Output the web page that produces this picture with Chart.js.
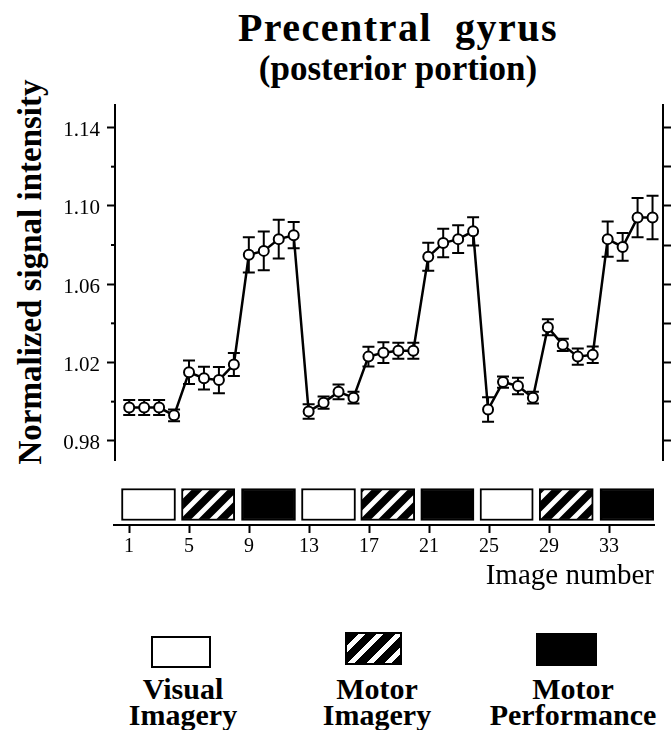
<!DOCTYPE html>
<html lang="en">
  <head>
    <meta charset="UTF-8" />
    <title>Precentral gyrus (posterior portion)</title>
    <style>
      body { margin: 0; background: #fff; font-family: "Liberation Serif", "Times New Roman", serif; color: #000; }
      #wrap { position: relative; width: 672px; height: 730px; overflow: hidden; }
      .title { position: absolute; left: 98px; width: 600px; text-align: center; font-weight: bold; white-space: pre; }
      .t1 { top: 8px; font-size: 40px; line-height: 40px; letter-spacing: 1.5px; }
      .t2 { top: 51px; font-size: 35px; line-height: 35px; }
      .ylab { position: absolute; left: 30px; top: 272px; width: 500px; margin-left: -250px; margin-top: -20px;
              height: 40px; line-height: 40px; text-align: center; font-weight: bold; font-size: 33px;
              transform: rotate(-90deg); white-space: nowrap; }
      canvas { position: absolute; left: 0; }
      #mainChart { top: 0; }
      #stripChart { top: 480px; }
      .sw { position: absolute; box-sizing: border-box; border: 2px solid #000; }
      .sw0 { left: 151px; top: 636px; width: 60px; height: 32px; background: #fff; }
      .sw1 { left: 345px; top: 632px; width: 57px; height: 33px;
             background: repeating-linear-gradient(135deg, #000 0 8px, #fff 8px 13px); }
      .sw2 { left: 536px; top: 633px; width: 61px; height: 33px; background: #000; }
      .lbl { position: absolute; top: 676px; width: 200px; text-align: center; font-weight: bold; font-size: 30px; line-height: 26px; }
      .lbl0 { left: 83px; }
      .lbl1 { left: 277px; }
      .lbl2 { left: 473px; }
    </style>
  </head>

  <body>
    <div id="wrap">
      <div class="title t1">Precentral  gyrus</div>
      <div class="title t2">(posterior portion)</div>
      <div class="ylab">Normalized signal intensity</div>
      <canvas id="mainChart" width="672" height="480"></canvas>
      <canvas id="stripChart" width="672" height="120"></canvas>
      <div id="legend"></div>
    </div>

    <script src="https://cdn.jsdelivr.net/npm/chart.js"></script>
    <script>
      const FONT = '"Liberation Serif", "Times New Roman", serif';

      const imageNumbers = [1, 2, 3, 4, 5, 6, 7, 8, 9, 10, 11, 12, 13, 14, 15, 16, 17, 18,
        19, 20, 21, 22, 23, 24, 25, 26, 27, 28, 29, 30, 31, 32, 33, 34, 35, 36];
      const meanSignal = [0.997, 0.997, 0.997, 0.993, 1.015, 1.012, 1.011, 1.019, 1.075,
        1.077, 1.083, 1.085, 0.995, 0.9995, 1.005, 1.002, 1.023, 1.025, 1.026, 1.026,
        1.074, 1.081, 1.083, 1.087, 0.996, 1.010, 1.008, 1.002, 1.038, 1.029, 1.023,
        1.024, 1.083, 1.079, 1.094, 1.094];
      const semSignal = [0.0038, 0.0038, 0.0038, 0.003, 0.006, 0.0058, 0.0067, 0.0059,
        0.009, 0.0099, 0.0099, 0.0067, 0.0037, 0.0031, 0.0038, 0.003, 0.0051, 0.0053,
        0.0041, 0.0041, 0.0071, 0.0073, 0.0071, 0.0072, 0.0062, 0.0029, 0.0042, 0.003,
        0.0041, 0.0031, 0.0041, 0.0042, 0.009, 0.0071, 0.01, 0.0111];

      const yMajorTicks = [0.98, 1.02, 1.06, 1.10, 1.14];
      const yMinorTicks = [1.00, 1.04, 1.08, 1.12];
      const xTickValues = [1, 5, 9, 13, 17, 21, 25, 29, 33];

      // task blocks under the plot (image number ranges)
      const blockStart = [0.5, 4.5, 8.5, 12.5, 16.45, 20.45, 24.4, 28.35, 32.4];
      const blockEnd = [4.1, 8.05, 12.1, 16.1, 20.05, 24.0, 27.95, 31.95, 36];
      const blockCondition = [0, 1, 2, 0, 1, 2, 0, 1, 2];
      const conditionNames = [["Visual", "Imagery"], ["Motor", "Imagery"], ["Motor", "Performance"]];

      // legend
      const legend = document.getElementById("legend");
      conditionNames.forEach((lines, i) => {
        const sw = document.createElement("div");
        sw.className = "sw sw" + i;
        legend.appendChild(sw);
        const lbl = document.createElement("div");
        lbl.className = "lbl lbl" + i;
        lbl.innerHTML = lines.join("<br>");
        legend.appendChild(lbl);
      });

      const errorBars = {
        id: "errorBars",
        beforeDatasetsDraw(chart) {
          const { ctx, scales: { x, y } } = chart;
          ctx.save();
          ctx.strokeStyle = "#000";
          ctx.lineWidth = 2;
          meanSignal.forEach((m, i) => {
            const px = x.getPixelForValue(imageNumbers[i]);
            const top = y.getPixelForValue(m + semSignal[i]);
            const bot = y.getPixelForValue(m - semSignal[i]);
            ctx.beginPath();
            ctx.moveTo(px, top); ctx.lineTo(px, bot);
            ctx.moveTo(px - 6, top); ctx.lineTo(px + 6, top);
            ctx.moveTo(px - 6, bot); ctx.lineTo(px + 6, bot);
            ctx.stroke();
          });
          ctx.restore();
        },
      };

      // short unlabeled ticks on the left axis
      const minorTicks = {
        id: "minorTicks",
        afterDraw(chart) {
          const ax = chart.scales.y;
          const ctx = chart.ctx;
          ctx.save();
          ctx.strokeStyle = "#000";
          ctx.lineWidth = 2;
          yMinorTicks.forEach((v) => {
            const py = ax.getPixelForValue(v);
            ctx.beginPath();
            ctx.moveTo(ax.right - 4, py);
            ctx.lineTo(ax.right, py);
            ctx.stroke();
          });
          ctx.restore();
        },
      };

      new Chart(document.getElementById("mainChart"), {
        type: "line",
        data: {
          datasets: [
            {
              data: imageNumbers.map((n, i) => ({ x: n, y: meanSignal[i] })),
              borderColor: "#000",
              borderWidth: 2.5,
              tension: 0,
              pointRadius: 5,
              pointBackgroundColor: "#fff",
              pointBorderColor: "#000",
              pointBorderWidth: 2,
            },
          ],
        },
        options: {
          responsive: false,
          animation: false,
          layout: { padding: { top: 105, bottom: 7, left: 0, right: 0 } },
          plugins: { legend: { display: false }, tooltip: { enabled: false } },
          scales: {
            x: { type: "linear", min: 0.05, max: 36.7, display: false },
            y: {
              position: "left",
              min: 0.97,
              max: 1.1515,
              afterFit(s) { s.width = 115; },
              afterBuildTicks(s) { s.ticks = yMajorTicks.map((v) => ({ value: v })); },
              ticks: {
                color: "#000",
                font: { family: FONT, size: 21 },
                padding: 7,
                labelOffset: 3,
                callback: (v) => Number(v).toFixed(2),
              },
              grid: { drawOnChartArea: false, tickLength: 8, tickColor: "#000", tickWidth: 2 },
              border: { color: "#000", width: 2 },
            },
            y2: {
              position: "right",
              min: 0.97,
              max: 1.1515,
              afterFit(s) { s.width = 9; },
              afterBuildTicks(s) {
                s.ticks = yMajorTicks.concat(yMinorTicks).map((v) => ({ value: v }));
              },
              ticks: { display: false },
              grid: { drawOnChartArea: false, tickLength: 8, tickColor: "#000", tickWidth: 2 },
              border: { color: "#000", width: 2 },
            },
          },
        },
        plugins: [errorBars, minorTicks],
      });

      // diagonal white stripes on black for the motor imagery blocks
      const stripCtx = document.getElementById("stripChart").getContext("2d");
      const tile = document.createElement("canvas");
      tile.width = 18;
      tile.height = 18;
      const g = tile.getContext("2d");
      g.fillStyle = "#000";
      g.fillRect(0, 0, 18, 18);
      g.strokeStyle = "#fff";
      g.lineWidth = 5;
      g.beginPath();
      g.moveTo(-9, 9); g.lineTo(9, -9);
      g.moveTo(0, 18); g.lineTo(18, 0);
      g.moveTo(9, 27); g.lineTo(27, 9);
      g.stroke();
      const fills = ["#fff", stripCtx.createPattern(tile, "repeat"), "#000"];

      new Chart(document.getElementById("stripChart"), {
        type: "bar",
        data: {
          labels: ["blocks"],
          datasets: [
            {
              data: blockStart.map((s, i) => ({ x: [s, blockEnd[i]], y: "blocks" })),
              backgroundColor: blockCondition.map((c) => fills[c]),
              borderColor: "#000",
              borderWidth: 2,
              borderSkipped: false,
              barThickness: 32,
            },
          ],
        },
        options: {
          indexAxis: "y",
          responsive: false,
          animation: false,
          layout: { padding: { top: 4, left: 114, right: 18, bottom: 0 } },
          plugins: { legend: { display: false }, tooltip: { enabled: false } },
          scales: {
            y: { type: "category", display: false },
            x: {
              type: "linear",
              position: "bottom",
              min: 0,
              max: 36,
              afterFit(s) { s.height = 75; },
              afterBuildTicks(s) { s.ticks = xTickValues.map((v) => ({ value: v })); },
              ticks: {
                color: "#000",
                font: { family: FONT, size: 20 },
                padding: 2,
                maxRotation: 0,
                autoSkip: false,
              },
              grid: { drawOnChartArea: false, tickLength: 8, tickColor: "#000", tickWidth: 2 },
              border: { color: "#000", width: 2 },
              title: {
                display: true,
                text: "Image number",
                align: "end",
                color: "#000",
                font: { family: FONT, size: 29 },
                padding: { top: 0, bottom: 6 },
              },
            },
          },
        },
      });
    </script>
  </body>
</html>
